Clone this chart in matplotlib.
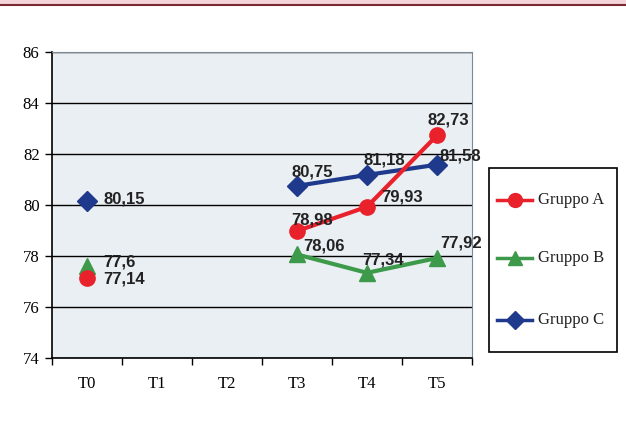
import numpy as np
import matplotlib
matplotlib.use("Agg")
import matplotlib.pyplot as plt
from matplotlib.lines import Line2D
from matplotlib.patches import Rectangle

categories = ["T0", "T1", "T2", "T3", "T4", "T5"]
gruppo_a = [77.14, np.nan, np.nan, 78.98, 79.93, 82.73]
gruppo_b = [77.6, np.nan, np.nan, 78.06, 77.34, 77.92]
gruppo_c = [80.15, np.nan, np.nan, 80.75, 81.18, 81.58]
series_names = ["Gruppo A", "Gruppo B", "Gruppo C"]
y_ticks = [74, 76, 78, 80, 82, 84, 86]

colors = ["#e8212b", "#3d9a4a", "#1f3a8c"]
markers = ["o", "^", "D"]
msizes = [11, 11, 10]

# label offsets in pixels (dx to left edge, dy to centre, up positive)
offsets = {
    0: [(16, -1), None, None, (-6, 11), (14, 10), (-9, 15)],
    1: [(16, 4), None, None, (6, 8), (-5, 13), (3, 15)],
    2: [(16, 2), None, None, (-6, 14), (-3, 15), (3, 9)],
}

W, H = 626, 428
fig = plt.figure(figsize=(W / 100, H / 100), dpi=100)
fig.patch.set_facecolor("white")
ax = fig.add_axes([52/W, 1-358/H, (472-52)/W, (358-52)/H])
ax.set_facecolor("#eaeff3")

x = np.arange(len(categories))
series = [gruppo_a, gruppo_b, gruppo_c]
for i, vals in enumerate(series):
    ax.plot(x, vals, color=colors[i], lw=3, marker=markers[i], ms=msizes[i],
            markeredgecolor=colors[i], zorder=3 + (2 - i))
    for j, v in enumerate(vals):
        if np.isnan(v):
            continue
        dx, dy = offsets[i][j]
        ax.annotate(f"{v:g}".replace(".", ","), (x[j], v), xytext=(dx, dy),
                    textcoords="offset pixels", ha="left", va="center",
                    fontsize=12, fontweight="bold", color="#222222",
                    family="Liberation Sans", zorder=10)

ax.set_xlim(-0.5, len(categories) - 0.5)
ax.set_ylim(74, 86)
ax.set_yticks(y_ticks)
ax.set_yticklabels([str(t) for t in y_ticks], family="Liberation Serif", fontsize=12)
ax.set_xticks(x)
ax.set_xticklabels(categories, family="Liberation Serif", fontsize=12)
ax.set_xticks(np.arange(-0.5, len(categories)), minor=True)
ax.tick_params(axis="x", which="major", length=0, pad=13)
ax.tick_params(axis="x", which="minor", length=5, width=1, direction="out")
ax.tick_params(axis="y", length=5, width=1, direction="out", pad=4)
ax.yaxis.grid(True, color="black", lw=1)
ax.set_axisbelow(True)
for s in ["left", "bottom"]:
    ax.spines[s].set_color("black")
    ax.spines[s].set_linewidth(1.2)
for s in ["top", "right"]:
    ax.spines[s].set_color("#7a8a99")
    ax.spines[s].set_linewidth(0.8)

# legend box drawn in figure pixels
fig.add_artist(Rectangle((489/W, 1-352/H), 128/W, 184/H, transform=fig.transFigure,
                         facecolor="white", edgecolor="black", lw=1.2))
legend_y = [200, 258, 320]
for i, name in enumerate(series_names):
    yy = 1 - legend_y[i] / H
    fig.add_artist(Line2D([497/W, 532/W], [yy, yy], color=colors[i], lw=2.5,
                          transform=fig.transFigure))
    fig.add_artist(Line2D([514.5/W], [yy], color=colors[i], marker=markers[i],
                          ms=msizes[i] - 1, transform=fig.transFigure))
    fig.text(538/W, yy, name, ha="left", va="center", family="Liberation Serif",
             fontsize=12, color="#222222")

fig.add_artist(Line2D([0, 1], [1-2/H, 1-2/H], color="#f3d4d8", lw=3,
                      transform=fig.transFigure))
fig.add_artist(Line2D([0, 1], [1-5/H, 1-5/H], color="#7a2a35", lw=1.5,
                      transform=fig.transFigure))

fig.savefig("out.png", dpi=100)
